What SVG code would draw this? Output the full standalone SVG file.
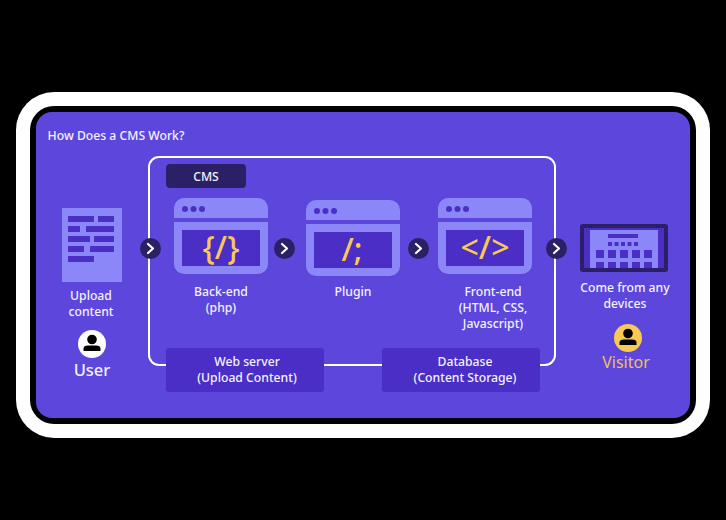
<svg xmlns="http://www.w3.org/2000/svg" width="726" height="520" viewBox="0 0 726 520">
<style>
text{font-family:"Noto Sans","Open Sans",sans-serif;fill:#f4f2ff;text-anchor:middle;font-size:12.200px;font-weight:500}
.lt{fill:#8b87f8}.dk{fill:#4a2ec6}.nv{fill:#2b2066}.yw{fill:#f8c955}
.code{fill:#f8c955;font-size:32px;font-weight:500}
</style>
<defs>
<g id="win">
<path class="lt" d="M0 20V10A10 10 0 0 1 10 0H84A10 10 0 0 1 94 10V20Z"/>
<path class="lt" d="M0 24H94V66A10 10 0 0 1 84 76H10A10 10 0 0 1 0 66Z"/>
<rect class="dk" x="8" y="32" width="78" height="36"/>
<circle class="dk" cx="11" cy="11" r="3"/><circle class="dk" cx="19.500" cy="11" r="3"/><circle class="dk" cx="28" cy="11" r="3"/>
</g>
<g id="btn">
<circle class="nv" r="10.500"/>
<path d="M-2.500 -4.500L2.500 0L-2.500 4.500" fill="none" stroke="#fff" stroke-width="2.200" stroke-linecap="round" stroke-linejoin="round"/>
</g>
<g id="person">
<circle cx="0" cy="-4.500" r="4.800" fill="#000"/>
<path d="M-8.500 7V4.500Q-8.500 1.500 -4 1.500H4Q8.500 1.500 8.500 4.500V7Z" fill="#000"/>
</g>
</defs>
<rect width="726" height="520" fill="#000"/>
<rect x="16" y="92" width="694" height="346" rx="38" fill="#fff"/>
<rect x="30" y="106" width="666" height="318" rx="24" fill="#000"/>
<rect x="36" y="112" width="654" height="306" rx="16" fill="#5c46dc"/>
<text x="116" y="140">How Does a CMS Work?</text>
<g id="connectors">
<rect x="149" y="157" width="406" height="208" rx="10" fill="none" stroke="#fff" stroke-width="2"/>
<use href="#btn" x="150.500" y="248.500"/>
<use href="#btn" x="284.500" y="248.500"/>
<use href="#btn" x="418.500" y="248.500"/>
<use href="#btn" x="556.500" y="248.500"/>
</g>
<g id="title-cms">
<rect class="nv" x="166" y="164" width="80" height="24" rx="4"/>
<text x="206" y="180.500">CMS</text>
</g>
<g id="upload">
<rect class="lt" x="62" y="208" width="60" height="74"/>
<path class="dk" d="M68 216h26v6h-26zM98 216h16v6h-16zM68 226h12v6h-12zM86 226h28v6h-28zM68 236h22v6h-22zM94 236h20v6h-20zM68 246h16v6h-16zM90 246h24v6h-24zM68 256h26v6h-26z"/>
<text x="91" y="300">Upload</text>
<text x="91" y="316">content</text>
</g>
<g id="user">
<circle cx="92" cy="344" r="14" fill="#fff"/>
<use href="#person" x="92" y="344"/>
<text x="92" y="376" style="font-size:16.500px">User</text>
</g>
<g id="backend">
<use href="#win" x="174" y="198"/>
<text class="code" x="221" y="258.500">{/}</text>
<text x="221" y="296">Back-end</text>
<text x="221" y="312">(php)</text>
</g>
<g id="plugin">
<use href="#win" x="306" y="200"/>
<text class="code" x="352" y="261">/;</text>
<text x="353" y="296">Plugin</text>
</g>
<g id="frontend">
<use href="#win" x="438" y="198"/>
<text class="code" x="485" y="258.500">&lt;/&gt;</text>
<text x="493" y="296">Front-end</text>
<text x="493" y="312">(HTML, CSS,</text>
<text x="493" y="328">Javascript)</text>
</g>
<g id="visitor-device">
<rect class="nv" x="580" y="224" width="88" height="48" rx="3"/>
<rect class="dk" x="584" y="228" width="80" height="40"/>
<rect class="lt" x="590" y="230" width="68" height="38"/>
<path class="dk" d="M608 234h30v4h-30zM608 242h4v4h-4zM614.500 242h4v4h-4zM621 242h4v4h-4zM627.500 242h4v4h-4zM634 242h4v4h-4zM596 250h8v8h-8zM608 250h8v8h-8zM620 250h8v8h-8zM632 250h8v8h-8zM644 250h8v8h-8zM596 262h8v6h-8zM608 262h8v6h-8zM620 262h8v6h-8zM632 262h8v6h-8zM644 262h8v6h-8z"/>
<text x="625" y="292">Come from any</text>
<text x="625" y="308">devices</text>
</g>
<g id="visitor">
<circle class="yw" cx="628" cy="338" r="14"/>
<use href="#person" x="628" y="338"/>
<text x="626" y="368" style="font-size:16px;font-weight:400;fill:#eec25a">Visitor</text>
</g>
<g id="webserver">
<rect class="dk" x="166" y="348" width="158" height="44" rx="3"/>
<text x="247" y="366">Web server</text>
<text x="247" y="382">(Upload Content)</text>
</g>
<g id="database">
<rect class="dk" x="382" y="348" width="158" height="44" rx="3"/>
<text x="465" y="366">Database</text>
<text x="465" y="382">(Content Storage)</text>
</g>
</svg>
